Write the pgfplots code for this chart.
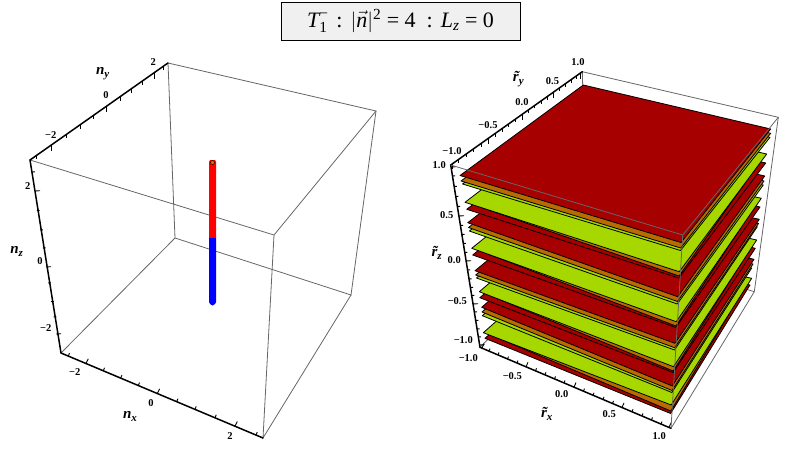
\documentclass[border=0pt]{standalone}
\usepackage{amsmath}
\usepackage{fontspec}
\setmainfont{Liberation Serif}
\usepackage{pgfplots}
\pgfplotsset{compat=1.18}
\definecolor{pr}{HTML}{A60000}
\definecolor{pg}{HTML}{A6D800}
\definecolor{pb}{HTML}{B86C00}
\definecolor{edge}{HTML}{666666}
\newcommand{\tl}{\fontsize{10.5}{12}\selectfont\bfseries}
\newcommand{\al}[2]{{\fontsize{15}{16}\selectfont\bfseries\itshape #1}\raisebox{-3pt}{\fontsize{11}{12}\selectfont\bfseries\itshape #2}}
\begin{document}
\begin{tikzpicture}
\begin{axis}[scale only axis,width=800pt,height=460pt,xmin=0,xmax=800,ymin=0,ymax=460,y dir=reverse,
  axis lines=none,clip=false,
  gl/.style={draw=edge,line width=0.8pt,no marks},
  ax/.style={draw=black,line width=1.5pt,no marks,line cap=round},
  tk/.style={draw=black,line width=0.9pt,no marks},
  R/.style={draw=black,fill=pr,line width=0.8pt,line join=round,no marks},
  G/.style={draw=black,fill=pg,line width=0.8pt,line join=round,no marks},
  B/.style={draw=black,fill=pb,line width=0.8pt,line join=round,no marks}]
\path (axis cs:0,0) rectangle (axis cs:800,460);
% ---------- left cube
\addplot[gl] coordinates {(30,160) (274,235) (376,111) (168,63) (175,238) (61,353)};
\addplot[gl] coordinates {(175,238) (351,295) (376,111)};
\addplot[gl] coordinates {(274,235) (263,438) (351,295)};
\addplot[ax] coordinates {(168,63) (30,160) (61,353) (263,438)};
% ticks ny
\addplot[tk,quiver={u=0,v=3.5}] table {
x y
36.7 155.3
66.7 134.3
80 125
93.3 115.7
120 97
131.7 89
142.7 81.3
163.3 66.7
};
\addplot[tk,quiver={u=0,v=6}] table {
x y
51.7 144.9
106.7 106.3
154 73.3
};
% ticks nz
\addplot[tk,quiver={u=2.8,v=-0.2}] table {
x y
32.0 172
36.9 210.7
40.0 230
42.9 248
48.0 283
51.0 301.7
53.5 317
};
\addplot[tk,quiver={u=5,v=-0.3}] table {
x y
35.0 191
45.8 267
56.2 334
};
% ticks nx
\addplot[tk,quiver={u=1.2,v=-3}] table {
x y
68.3 356.1
103.3 370.8
120.7 378.1
138.3 385.5
176.7 401.7
195 409.4
215 417.8
256 435.1
};
\addplot[tk,quiver={u=2.3,v=-4.7}] table {
x y
86 363.5
157.3 393.5
235 426.2
};
% rod
\addplot[draw=none,fill=red,no marks] coordinates {(209,162) (210,160) (215,160) (216,162) (216,238) (209,238)} -- cycle;
\addplot[draw=none,fill=blue,no marks] coordinates {(209,238) (216,238) (216,302) (215,304) (212.5,305.5) (210,304) (209,302)} -- cycle;
\addplot[only marks,mark=*,mark size=2pt,mark options={draw=none,fill=orange!85!black}] coordinates {(212.5,162.5)};
% labels left
\node[font=\tl] at (axis cs:153.3,62.3) {2};
\node[font=\tl] at (axis cs:106,95) {0};
\node[font=\tl] at (axis cs:50.7,135) {−2};
\node[font=\tl] at (axis cs:27.7,186) {2};
\node[font=\tl] at (axis cs:40,260.7) {0};
\node[font=\tl] at (axis cs:45.7,328) {−2};
\node[font=\tl] at (axis cs:74.7,372.3) {−2};
\node[font=\tl] at (axis cs:151,402.7) {0};
\node[font=\tl] at (axis cs:230,436) {2};
\node at (axis cs:102.7,74) {\al{n}{y}};
\node at (axis cs:16.7,251.7) {\al{n}{z}};
\node at (axis cs:130,416) {\al{n}{x}};
% ---------- right cube, back edges
\addplot[gl] coordinates {(582.3,71.7) (778.3,117.3) (754.3,291.7) (671,428.3)};
\addplot[gl] coordinates {(582.3,71.7) (587,240) (480,347.3)};
\addplot[gl] coordinates {(587,240) (754.3,291.7)};
\addplot[ax] coordinates {(582.3,71.7) (450.7,165) (480,347.3) (671,428.3)};
% ticks ry
\addplot[tk,quiver={u=0,v=3}] table {
x y
458.5 159.5
466 154.2
473.7 148.7
481 143.5
495 133.6
502 128.6
508.6 124
515.3 119.2
528.4 109.9
534.7 105.4
541 101
547 96.7
559 88.2
565 84
571 79.7
576.6 75.7
};
\addplot[tk,quiver={u=0,v=5.5}] table {
x y
452.5 163.7
488 138.6
522 114.4
553 92.5
580.5 73
};
% ticks rz
\addplot[tk,quiver={u=2.6,v=-0.2}] table {
x y
452.5 176
454.2 186.5
455.8 196.5
457.4 206.5
460.5 225.5
461.9 234.5
463.3 243.5
464.8 252.5
467.6 270
469 279
470.4 287.5
471.7 295.5
474.4 312
475.8 320.5
477.1 329
478.4 337
};
\addplot[tk,quiver={u=5,v=-0.3}] table {
x y
451 167
458.9 216
466.2 261
473 304
479.7 345
};
% ticks rx
\addplot[tk,quiver={u=1,v=-2.5}] table {
x y
489 351.1
498 354.9
507.5 359
517 363
535.5 370.8
545 374.8
554.5 378.9
564 382.9
583.5 391.1
593 395.2
603 399.4
612.5 403.4
632 411.7
642 415.9
651.5 419.9
661 424
};
\addplot[tk,quiver={u=2,v=-4.5}] table {
x y
482 348.1
526 366.8
574 387.1
622 407.4
669 427.4
};
% ---------- stack, lowest layer first
\addplot[R] coordinates {(485,338.3) (585,250) (750,285) (670.6,413.5)} -- cycle;
\addplot[B] coordinates {(500,339) (585,250) (730,312.5) (670.8,411)} -- cycle;
\addplot[G] coordinates {(483.3,332.7) (585,243) (751.7,278.3) (671.2,405)} -- cycle;
\addplot[G] coordinates {(482.3,315.7) (585,226) (751.7,268) (671.9,392.5)} -- cycle;
\addplot[B] coordinates {(482,312) (585,222) (753,264) (672,390.5)} -- cycle;
\addplot[R] coordinates {(481.7,307.3) (585,217) (754,259.3) (672.3,386)} -- cycle;
\addplot[R] coordinates {(479.8,297.7) (585,208) (755.3,248.3) (673.1,372.5)} -- cycle;
\addplot[B] coordinates {(496,298.1) (585,205) (735,273) (673.2,371)} -- cycle;
\addplot[G] coordinates {(479.3,291.7) (585,202) (756.7,240) (673.5,366.7)} -- cycle;
\addplot[G] coordinates {(476.5,278) (584,188) (757.3,226.7) (674.5,350)} -- cycle;
\addplot[B] coordinates {(475.7,275) (584,185) (758.5,223.5) (674.6,347.7)} -- cycle;
\addplot[R] coordinates {(475,270.7) (584,181) (759.3,219.3) (674.9,343.3)} -- cycle;
\addplot[R] coordinates {(472.7,255) (584,165) (760,207) (675.8,327.5)} -- cycle;
\addplot[B] coordinates {(489,254.5) (584,162) (740,229.1) (675.9,326)} -- cycle;
\addplot[G] coordinates {(471.7,248.3) (584,158) (761.3,198.3) (676.2,321.7)} -- cycle;
\addplot[G] coordinates {(469.3,231) (584,141) (763.3,185) (677.2,304)} -- cycle;
\addplot[B] coordinates {(468.5,227.5) (584,138) (764,181) (677.4,301.5)} -- cycle;
\addplot[R] coordinates {(467.7,222.7) (584,133) (764.7,176) (677.7,296.7)} -- cycle;
\addplot[R] coordinates {(466.7,209.3) (583,120) (765.7,163) (678.8,278)} -- cycle;
\addplot[B] coordinates {(482,207.8) (583,118) (745,183.2) (679,276)} -- cycle;
\addplot[G] coordinates {(465,202.3) (583,112) (766.7,154) (679.2,271.7)} -- cycle;
\addplot[G] coordinates {(462.5,184) (583,94) (770,137.3) (680.5,250.5)} -- cycle;
\addplot[B] coordinates {(461,181) (583,91) (770.7,133.3) (680.7,248)} -- cycle;
\addplot[R] coordinates {(460,175.5) (583.3,85) (770.7,129) (681,242.5)} -- cycle;
% front edges over the stack
\addplot[gl] coordinates {(450.7,165) (682.7,235) (778.3,117.3)};
\addplot[gl] coordinates {(682.7,235) (671,428.3)};
% labels right
\node[font=\tl] at (axis cs:578,62) {1.0};
\node[font=\tl] at (axis cs:552.5,81) {0.5};
\node[font=\tl] at (axis cs:522,102) {0.0};
\node[font=\tl] at (axis cs:488,125) {−0.5};
\node[font=\tl] at (axis cs:452,151) {−1.0};
\node[font=\tl] at (axis cs:439.3,165) {1.0};
\node[font=\tl] at (axis cs:446.7,215) {0.5};
\node[font=\tl] at (axis cs:454.3,260) {0.0};
\node[font=\tl] at (axis cs:457.3,300.7) {−0.5};
\node[font=\tl] at (axis cs:463.3,340) {−1.0};
\node[font=\tl] at (axis cs:468.3,358.3) {−1.0};
\node[font=\tl] at (axis cs:512.3,376) {−0.5};
\node[font=\tl] at (axis cs:561.7,394) {0.0};
\node[font=\tl] at (axis cs:609.3,414) {0.5};
\node[font=\tl] at (axis cs:659.3,436) {1.0};
\node at (axis cs:518.3,79.3) {\al{\~r}{y}};
\node at (axis cs:436.7,253.3) {\al{\~r}{z}};
\node at (axis cs:546.7,414.3) {\al{\~r}{x}};
% ---------- title
\addplot[draw=black,fill=black!6,line width=0.9pt,no marks] coordinates {(281,2) (520,2) (520,40.5) (281,40.5)} -- cycle;
\node[font=\fontsize{22}{24}\selectfont] at (axis cs:400.5,21) {$\text{\itshape T}_{\text{1}}^{\text{−}}$\hspace{8pt}:\hspace{8pt}$|\vec{\text{\itshape n}}|^{\text{2}}$ = 4\hspace{11pt}:\hspace{8pt}{\itshape L}$_{\text{\itshape z}}$ = 0};
\end{axis}
\end{tikzpicture}
\end{document}
